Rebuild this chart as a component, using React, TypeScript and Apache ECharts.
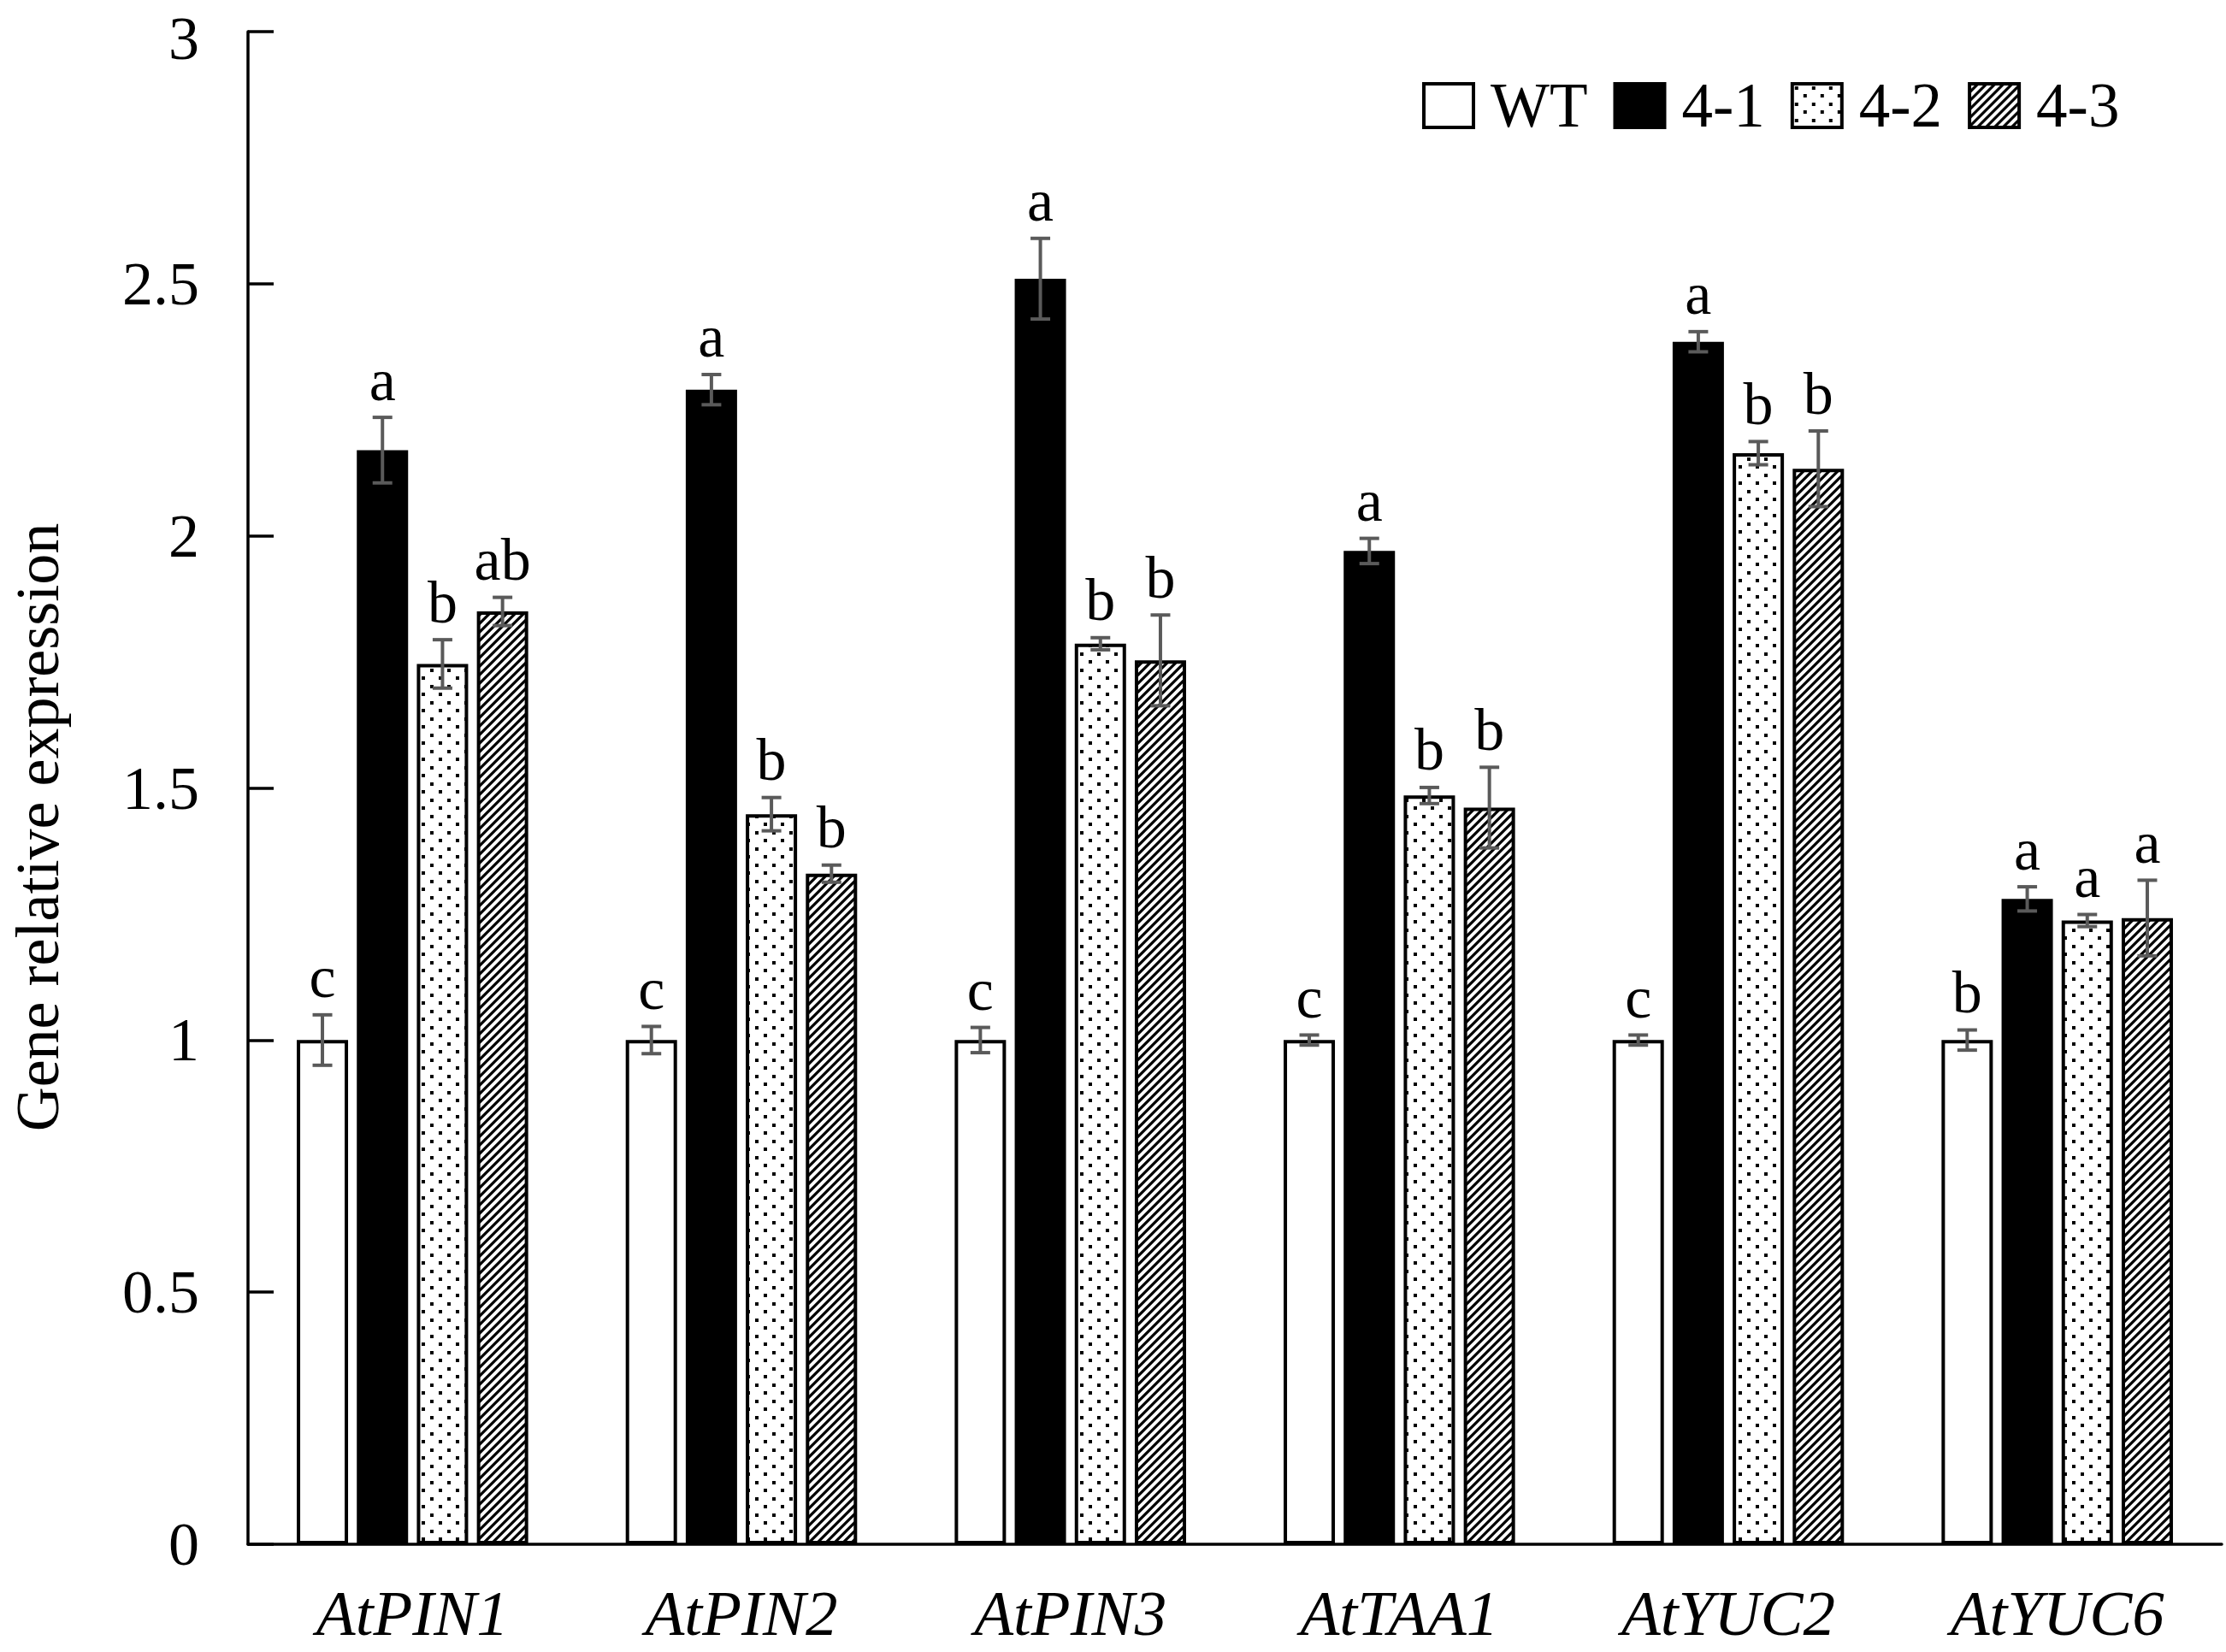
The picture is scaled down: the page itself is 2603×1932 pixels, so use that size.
import React, { useEffect, useRef } from "react";
import * as echarts from "echarts";

const categories = ["AtPIN1", "AtPIN2", "AtPIN3", "AtTAA1", "AtYUC2", "AtYUC6"];
const seriesNames = ["WT", "4-1", "4-2", "4-3"];

const wtMean = [1.0, 1.0, 1.0, 1.0, 1.0, 1.0];
const wtErr = [0.05, 0.027, 0.025, 0.01, 0.01, 0.02];
const wtSig = ["c", "c", "c", "c", "c", "b"];

const l41Mean = [2.17, 2.29, 2.51, 1.97, 2.385, 1.28];
const l41Err = [0.065, 0.03, 0.08, 0.025, 0.02, 0.024];
const l41Sig = ["a", "a", "a", "a", "a", "a"];

const l42Mean = [1.746, 1.448, 1.786, 1.485, 2.164, 1.237];
const l42Err = [0.048, 0.033, 0.012, 0.016, 0.023, 0.012];
const l42Sig = ["b", "b", "b", "b", "b", "a"];

const l43Mean = [1.85, 1.33, 1.753, 1.461, 2.133, 1.242];
const l43Err = [0.028, 0.017, 0.09, 0.08, 0.075, 0.075];
const l43Sig = ["ab", "b", "b", "b", "b", "a"];

const yTicks = { min: 0, max: 3, interval: 0.5 };

const FONT = "'Liberation Serif', 'Times New Roman', serif";
const BAR_W = 60;
const BAR_GAP = 0.17;

function makeDots(): string {
  const c = document.createElement("canvas");
  c.width = 20;
  c.height = 19;
  const g = c.getContext("2d")!;
  g.fillStyle = "#fff";
  g.fillRect(0, 0, 20, 19);
  g.fillStyle = "#000";
  g.fillRect(3, 3, 4, 4);
  g.fillRect(13, 12, 4, 4);
  return c.toDataURL();
}

function makeHatch(): string {
  const s = 10;
  const c = document.createElement("canvas");
  c.width = s;
  c.height = s;
  const g = c.getContext("2d")!;
  g.fillStyle = "#fff";
  g.fillRect(0, 0, s, s);
  g.strokeStyle = "#000";
  g.lineWidth = 3.2;
  g.beginPath();
  g.moveTo(-2, s + 2);
  g.lineTo(s + 2, -2);
  g.moveTo(-2, 2);
  g.lineTo(2, -2);
  g.moveTo(s - 2, s + 2);
  g.lineTo(s + 2, s - 2);
  g.stroke();
  return c.toDataURL();
}

export default function App() {
  const ref = useRef<HTMLDivElement>(null);

  useEffect(() => {
    document.body.style.margin = "0";
    if (!ref.current) return;
    const chart = echarts.init(ref.current, undefined, { renderer: "svg" });

    const means = [wtMean, l41Mean, l42Mean, l43Mean];
    const errs = [wtErr, l41Err, l42Err, l43Err];
    const sigs = [wtSig, l41Sig, l42Sig, l43Sig];

    const dots = { image: makeDots(), repeat: "repeat", imageWidth: 20, imageHeight: 19 };
    const hatch = { image: makeHatch(), repeat: "repeat", imageWidth: 10, imageHeight: 10 };
    const fills: any[] = ["#ffffff", "#000000", dots, hatch];

    const errData: number[][] = [];
    for (let s = 0; s < 4; s++) {
      for (let c = 0; c < categories.length; c++) {
        errData.push([c, s, means[s][c], errs[s][c]]);
      }
    }

    const step = BAR_W * (1 + BAR_GAP);
    const total = BAR_W * 4 + BAR_W * BAR_GAP * 3;

    const barSeries = seriesNames.map((name, s) => ({
      name,
      type: "bar",
      data: means[s],
      barWidth: BAR_W,
      barGap: BAR_GAP * 100 + "%",
      itemStyle: { color: fills[s], borderColor: "#000", borderWidth: 4 },
      z: 2,
    }));

    const option: any = {
      animation: false,
      backgroundColor: "#fff",
      grid: { left: 286, right: 5, top: 37, bottom: 126, containLabel: false },
      legend: {
        data: seriesNames,
        left: 1658,
        top: 82,
        itemWidth: 58,
        itemHeight: 51,
        itemGap: 30,
        icon: "rect",
        selectedMode: false,
        itemStyle: { borderColor: "#000", borderWidth: 4 },
        textStyle: { fontSize: 73, fontFamily: FONT, color: "#000", padding: [0, 0, 0, 15] },
      },
      xAxis: {
        type: "category",
        data: categories,
        boundaryGap: true,
        axisLine: { lineStyle: { color: "#000", width: 3.5 } },
        axisTick: { show: false },
        axisLabel: {
          fontSize: 75,
          lineHeight: 64,
          fontFamily: FONT,
          fontStyle: "italic",
          color: "#000",
          margin: 48,
        },
        splitLine: { show: false },
      },
      yAxis: {
        type: "value",
        min: yTicks.min,
        max: yTicks.max,
        interval: yTicks.interval,
        name: "Gene relative expression",
        nameLocation: "middle",
        nameRotate: 90,
        nameGap: 210,
        nameTextStyle: { fontSize: 72, fontFamily: FONT, color: "#000", padding: [0, 92, 0, 0] },
        axisLine: { show: true, lineStyle: { color: "#000", width: 3.5 } },
        axisTick: { show: true, inside: true, length: 30, lineStyle: { color: "#000", width: 3.5 } },
        axisLabel: {
          fontSize: 72,
          fontFamily: FONT,
          color: "#000",
          margin: 57,
          formatter: (v: number) => (v === yTicks.max ? "{t|" + v + "}" : String(v)),
          rich: {
            t: { fontSize: 72, fontFamily: FONT, color: "#000", padding: [16, 0, 0, 0] },
          },
        },
        splitLine: { show: false },
      },
      series: [
        ...barSeries,
        {
          type: "custom",
          name: "err",
          data: errData,
          encode: { x: 0, y: 2 },
          z: 5,
          silent: true,
          renderItem: (params: any, api: any) => {
            const c = api.value(0);
            const s = api.value(1);
            const m = api.value(2);
            const e = api.value(3);
            const center = api.coord([c, m]);
            const x = center[0] - total / 2 + BAR_W / 2 + s * step;
            const yTop = api.coord([c, m + e])[1];
            const yBot = api.coord([c, m - e])[1];
            const cap = 11.5;
            const st = { stroke: "#5a5a5a", lineWidth: 4 };
            return {
              type: "group",
              children: [
                { type: "line", shape: { x1: x, y1: yTop, x2: x, y2: yBot }, style: st },
                { type: "line", shape: { x1: x - cap, y1: yTop, x2: x + cap, y2: yTop }, style: st },
                { type: "line", shape: { x1: x - cap, y1: yBot, x2: x + cap, y2: yBot }, style: st },
                {
                  type: "text",
                  style: {
                    text: sigs[s][c],
                    x,
                    y: yTop - 9,
                    align: "center",
                    verticalAlign: "bottom",
                    fontSize: 70,
                    fontFamily: FONT,
                    fill: "#000",
                  },
                },
              ],
            };
          },
        },
      ],
    };

    chart.setOption(option);
    return () => chart.dispose();
  }, []);

  return <div ref={ref} style={{ width: 2603, height: 1932 }} />;
}
